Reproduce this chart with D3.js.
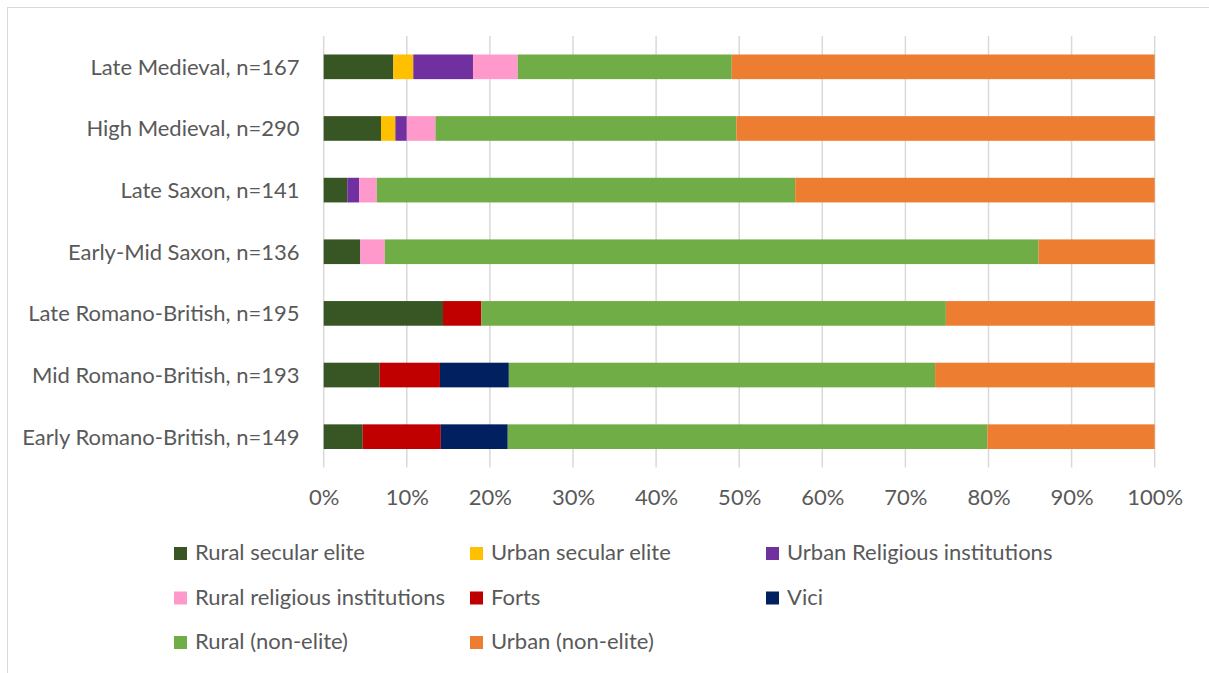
<!DOCTYPE html>
<html>
<head>
<meta charset="utf-8">
<script src="https://cdn.jsdelivr.net/npm/d3@7"></script>
<style>
  html, body { margin: 0; padding: 0; background: #fff; }
  svg { display: block; }
  text { font-family: Lato, "Open Sans", sans-serif; fill: #595959; }
</style>
</head>
<body>
<svg id="chart" width="1209" height="673"></svg>
<script>
// Site counts per period, by site type (top row first)
const periods = [
  "Late Medieval, n=167",
  "High Medieval, n=290",
  "Late Saxon, n=141",
  "Early-Mid Saxon, n=136",
  "Late Romano-British, n=195",
  "Mid Romano-British, n=193",
  "Early Romano-British, n=149"
];
const seriesNames = [
  "Rural secular elite",
  "Urban secular elite",
  "Urban Religious institutions",
  "Rural religious institutions",
  "Forts",
  "Vici",
  "Rural (non-elite)",
  "Urban (non-elite)"
];
const ruralSecularElite   = [14, 20, 4, 6, 28, 13, 7];
const urbanSecularElite   = [4, 5, 0, 0, 0, 0, 0];
const urbanReligious      = [12, 4, 2, 0, 0, 0, 0];
const ruralReligious      = [9, 10, 3, 4, 0, 0, 0];
const forts               = [0, 0, 0, 0, 9, 14, 14];
const vici                = [0, 0, 0, 0, 0, 16, 12];
const ruralNonElite       = [43, 105, 71, 107, 109, 99, 86];
const urbanNonElite       = [85, 146, 61, 19, 49, 51, 30];
const tickLabels = ["0%", "10%", "20%", "30%", "40%", "50%", "60%", "70%", "80%", "90%", "100%"];
const colors = ["#375623", "#FFC000", "#7030A0", "#FF99CC", "#C00000", "#002060", "#70AD47", "#ED7D31"];

const seriesValues = [ruralSecularElite, urbanSecularElite, urbanReligious, ruralReligious,
                      forts, vici, ruralNonElite, urbanNonElite];

const rows = periods.map((p, i) => {
  const r = { period: p };
  seriesNames.forEach((s, j) => { r[s] = seriesValues[j][i]; });
  return r;
});

const stack = d3.stack().keys(seriesNames).offset(d3.stackOffsetExpand);
const layers = stack(rows);

const svg = d3.select("#chart");
const fontSize = "22px";

// outer chart frame
svg.append("rect")
  .attr("x", 7.5).attr("y", 7.5)
  .attr("width", 1300).attr("height", 800)
  .attr("fill", "none").attr("stroke", "#d9d9d9").attr("stroke-width", 1);

const x = d3.scaleLinear().domain([0, 1]).range([323.7, 1154.7]);
const y = d3.scaleBand().domain(periods).range([36, 467.5])
  .paddingInner(0.6).paddingOuter(0.3);

// vertical gridlines
svg.append("g")
  .selectAll("line")
  .data(d3.range(0, 1.0001, 0.1))
  .join("line")
  .attr("x1", d => x(d)).attr("x2", d => x(d))
  .attr("y1", 36).attr("y2", 467.5)
  .attr("stroke", "#d9d9d9").attr("stroke-width", 1.5);

// stacked bars
svg.append("g")
  .selectAll("g")
  .data(layers)
  .join("g")
  .attr("fill", (d, i) => colors[i])
  .selectAll("rect")
  .data(d => d)
  .join("rect")
  .attr("x", d => x(d[0]))
  .attr("width", d => x(d[1]) - x(d[0]))
  .attr("y", d => y(d.data.period))
  .attr("height", y.bandwidth());

// x axis tick labels
const xAxis = d3.axisBottom(x)
  .tickValues(d3.range(0, 1.0001, 0.1))
  .tickFormat((d, i) => tickLabels[i])
  .tickSize(0).tickPadding(0);
const gx = svg.append("g").attr("transform", "translate(0,467.5)").call(xAxis);
gx.select(".domain").remove();
gx.selectAll("text")
  .attr("y", 37.5).attr("dy", null)
  .style("font-size", fontSize).attr("fill", "#595959");

// y axis category labels
const yAxis = d3.axisLeft(y).tickSize(0).tickPadding(0);
const gy = svg.append("g").attr("transform", "translate(299.5,0)").call(yAxis);
gy.select(".domain").remove();
gy.selectAll("text")
  .attr("dy", "0.36em")
  .style("font-size", fontSize).attr("fill", "#595959");

// legend
const legend = svg.append("g");
seriesNames.forEach((s, i) => {
  const col = i % 3, row = Math.floor(i / 3);
  const gx0 = 174 + col * 296, gy0 = 547 + row * 44.5;
  legend.append("rect")
    .attr("x", gx0).attr("y", gy0).attr("width", 13).attr("height", 13)
    .attr("fill", colors[i]);
  legend.append("text")
    .attr("x", gx0 + 21).attr("y", gy0 + 13)
    .style("font-size", fontSize)
    .text(s);
});
</script>
</body>
</html>
